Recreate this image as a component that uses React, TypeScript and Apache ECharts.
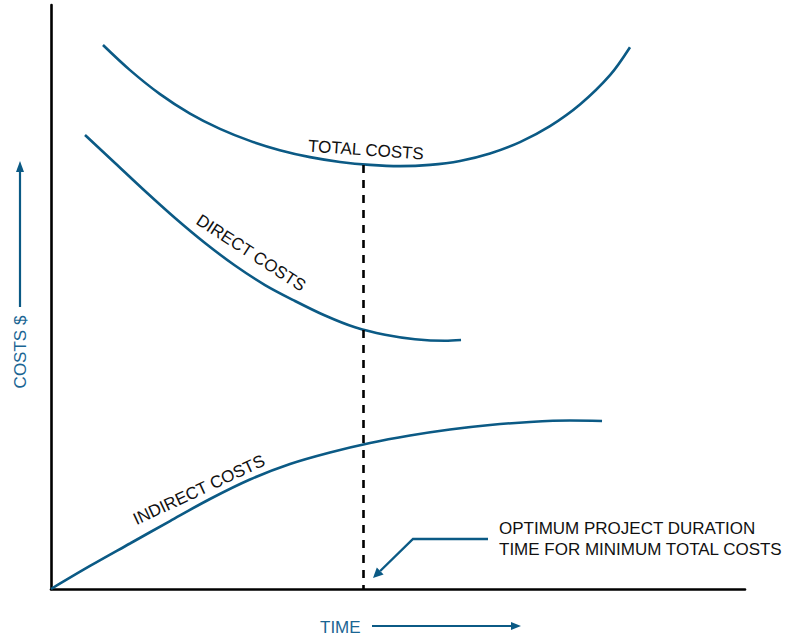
import React, { useEffect, useRef } from "react";
import * as echarts from "echarts";

// Time axis (0..100) and cost axis (0..100)
const totalTime = [7.49, 11.38, 15.71, 20.03, 24.35, 28.67, 32.97, 37.32, 41.64, 45.97, 50.29, 54.61, 58.93, 63.26, 67.58, 71.9, 76.22, 80.55, 83.43];
const totalCost = [93.15, 88.85, 84.74, 81.4, 78.78, 76.73, 75.14, 73.95, 73.13, 72.62, 72.41, 72.62, 73.29, 74.57, 76.52, 79.25, 82.95, 87.98, 92.77];

const directTime = [4.9, 9.22, 13.54, 17.87, 22.19, 26.51, 30.84, 35.16, 39.48, 43.8, 48.13, 52.45, 56.77, 59.08];
const directCost = [77.74, 72.95, 68.15, 63.53, 59.25, 55.39, 52.05, 49.32, 46.83, 44.81, 43.53, 42.77, 42.5, 42.64];

const indirectTime = [0, 5.62, 11.38, 17.15, 22.91, 28.67, 34.44, 40.2, 45.97, 51.73, 57.49, 63.26, 69.02, 74.78, 79.4];
const indirectCost = [0, 3.94, 7.79, 11.64, 15.41, 18.75, 21.4, 23.37, 25.0, 26.28, 27.31, 28.08, 28.6, 28.85, 28.77];

const optimumTime = 44.96;
const optimumTotal = 72.6;

const seriesNames = ["TOTAL COSTS", "DIRECT COSTS", "INDIRECT COSTS"];
const annotationLines = ["OPTIMUM PROJECT DURATION", "TIME FOR MINIMUM TOTAL COSTS"];
const xAxisTitle = "TIME";
const yAxisTitle = "COSTS $";

const CURVE = "#0b5a85";
const BLUE_TEXT = "#1a6593";
const FONT = "Liberation Sans, Arial, sans-serif";

function zip(a: number[], b: number[]) {
  return a.map((v, i) => [v, b[i]]);
}

export default function App() {
  const ref = useRef<HTMLDivElement>(null);
  useEffect(() => {
    if (!ref.current) return;
    const chart = echarts.init(ref.current, undefined, { renderer: "svg" });
    const lineSeries = (name: string, data: number[][], extra: any = {}) => ({
      name,
      type: "line",
      data,
      smooth: 0.33,
      showSymbol: false,
      symbol: "none",
      lineStyle: { color: CURVE, width: 2.6 },
      z: 3,
      ...extra,
    });
    const axisCommon = {
      type: "value",
      min: 0,
      max: 100,
      axisLine: { show: true, lineStyle: { color: "#000", width: 2.6 } },
      axisTick: { show: false },
      axisLabel: { show: false },
      splitLine: { show: false },
    };
    const txt = (text: string, x: number, y: number, rotDeg: number, fill: string, align = "center") => ({
      type: "text",
      x,
      y,
      rotation: (rotDeg * Math.PI) / 180,
      style: { text, font: `17px ${FONT}`, fill, align, verticalAlign: "middle" },
      z: 10,
    });
    chart.setOption({
      animation: false,
      backgroundColor: "#fff",
      grid: { left: 51, right: 43, top: 5, bottom: 50, containLabel: false },
      xAxis: { ...axisCommon },
      yAxis: { ...axisCommon },
      series: [
        lineSeries(seriesNames[0], zip(totalTime, totalCost), {
          markLine: {
            silent: true,
            symbol: "none",
            label: { show: false },
            lineStyle: { color: "#000", width: 2.6, type: [8, 7] },
            data: [[{ coord: [optimumTime, optimumTotal] }, { coord: [optimumTime, 0] }]],
          },
        }),
        lineSeries(seriesNames[1], zip(directTime, directCost)),
        lineSeries(seriesNames[2], zip(indirectTime, indirectCost)),
      ],
      graphic: [
        txt(seriesNames[0], 366, 150, -4, "#111"),
        txt(seriesNames[1], 251, 253, -33, "#111"),
        txt(seriesNames[2], 199, 490, 25, "#111"),
        txt(annotationLines[0], 499, 528, 0, "#111", "left"),
        txt(annotationLines[1], 499, 549, 0, "#111", "left"),
        // annotation arrow
        {
          type: "polyline",
          shape: { points: [[488, 539], [413, 539], [380.2, 571]] },
          style: { stroke: CURVE, lineWidth: 2.4, fill: null },
          z: 10,
        },
        {
          type: "polygon",
          shape: { points: [[373, 578], [383.6, 574.4], [376.8, 567.6]] },
          style: { fill: CURVE },
          z: 10,
        },
        // TIME title and arrow
        txt(xAxisTitle, 320, 627, 0, BLUE_TEXT, "left"),
        {
          type: "line",
          shape: { x1: 372, y1: 626, x2: 512, y2: 626 },
          style: { stroke: CURVE, lineWidth: 2.2 },
        },
        {
          type: "polygon",
          shape: { points: [[521, 626], [511, 622], [511, 630]] },
          style: { fill: CURVE },
        },
        // COSTS $ title and arrow
        txt(yAxisTitle, 20, 352, 90, BLUE_TEXT),
        {
          type: "line",
          shape: { x1: 20, y1: 307, x2: 20, y2: 171 },
          style: { stroke: CURVE, lineWidth: 2.2 },
        },
        {
          type: "polygon",
          shape: { points: [[20, 161], [16, 172], [24, 172]] },
          style: { fill: CURVE },
        },
      ],
    });
    return () => chart.dispose();
  }, []);
  return (
    <div
      ref={ref}
      style={{ position: "fixed", left: 0, top: 0, width: 788, height: 639, background: "#fff" }}
    />
  );
}
